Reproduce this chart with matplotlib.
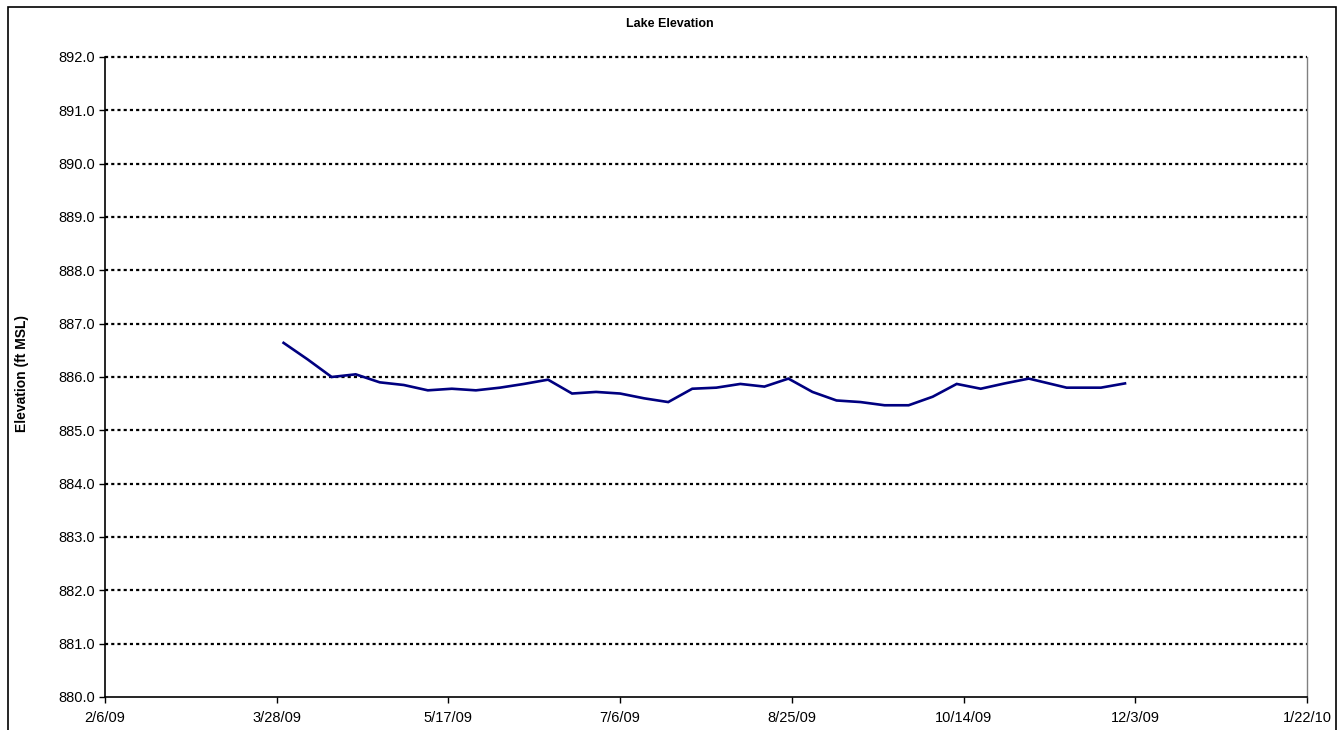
import matplotlib
matplotlib.use("Agg")
import matplotlib.pyplot as plt
import matplotlib.dates as mdates
import matplotlib.ticker as mticker
from matplotlib.patches import Rectangle
import datetime as dt
import numpy as np

plt.rcParams['font.family'] = ['Liberation Sans', 'DejaVu Sans']

# Data
start = dt.date(2009, 3, 30)
weekly_dates = [start + dt.timedelta(days=7 * i) for i in range(32)]
dates = weekly_dates + [dt.date(2009, 11, 13), dt.date(2009, 11, 23), dt.date(2009, 11, 30)]
elev = [886.64, 886.33, 886.00, 886.05, 885.90, 885.85, 885.75, 885.78, 885.75, 885.80,
        885.87, 885.95, 885.69, 885.72, 885.69, 885.60, 885.53, 885.78, 885.80, 885.87,
        885.82, 885.97, 885.72, 885.56, 885.53, 885.47, 885.47, 885.63, 885.87, 885.78,
        885.88, 885.97, 885.80, 885.80, 885.88]

title = "Lake Elevation"
ylabel = "Elevation (ft MSL)"
x_start = dt.date(2009, 2, 6)
x_end = dt.date(2010, 1, 22)
y_min, y_max = 880.0, 892.0
y_ticks = np.arange(880, 893, 1.0)

W, H = 1340, 730
fig = plt.figure(figsize=(W / 100, H / 100), dpi=100)

# outer frame
fig.patches.append(Rectangle((8 / W, -0.02), (1336 - 8) / W, 1 - 7 / H + 0.02,
                             transform=fig.transFigure, fill=False,
                             edgecolor='black', linewidth=1.2, zorder=0))

left, right, top, bottom = 105, 1307, 57, 697
ax = fig.add_axes([left / W, 1 - bottom / H, (right - left) / W, (bottom - top) / H])

ax.plot([mdates.date2num(d) for d in dates], elev, color='#000080', linewidth=1.9, zorder=3,
        solid_joinstyle='miter')

ax.set_xlim(mdates.date2num(x_start), mdates.date2num(x_end))
ax.set_ylim(y_min, y_max)

xticks = [mdates.date2num(x_start + dt.timedelta(days=50 * i)) for i in range(8)]
ax.set_xticks(xticks)

def fmt_date(x, pos=None):
    d = mdates.num2date(x)
    return f"{d.month}/{d.day}/{d.strftime('%y')}"

ax.xaxis.set_major_formatter(mticker.FuncFormatter(fmt_date))
ax.set_yticks(y_ticks)
ax.yaxis.set_major_formatter(mticker.FormatStrFormatter('%.1f'))

for yv in y_ticks[1:]:
    ax.axhline(yv, color='black', linestyle=(0, (1.4, 1.4)), linewidth=1.6,
               clip_on=False, zorder=1)

ax.spines['top'].set_visible(False)
ax.spines['right'].set_color('#808080')
ax.spines['right'].set_linewidth(1.0)
ax.spines['left'].set_linewidth(1.2)
ax.spines['bottom'].set_linewidth(1.2)

ax.tick_params(axis='both', direction='out', length=4, width=1, labelsize=10.5, colors='black')
ax.tick_params(axis='x', pad=6)
ax.tick_params(axis='y', pad=3)

fig.text(0.5, 1 - 24 / H, title, ha='center', va='center', fontsize=9, fontweight='bold')
fig.text(22 / W, 1 - 374 / H, ylabel, ha='center', va='center', rotation=90,
         fontsize=10, fontweight='bold')

fig.savefig("out.png", dpi=100)
